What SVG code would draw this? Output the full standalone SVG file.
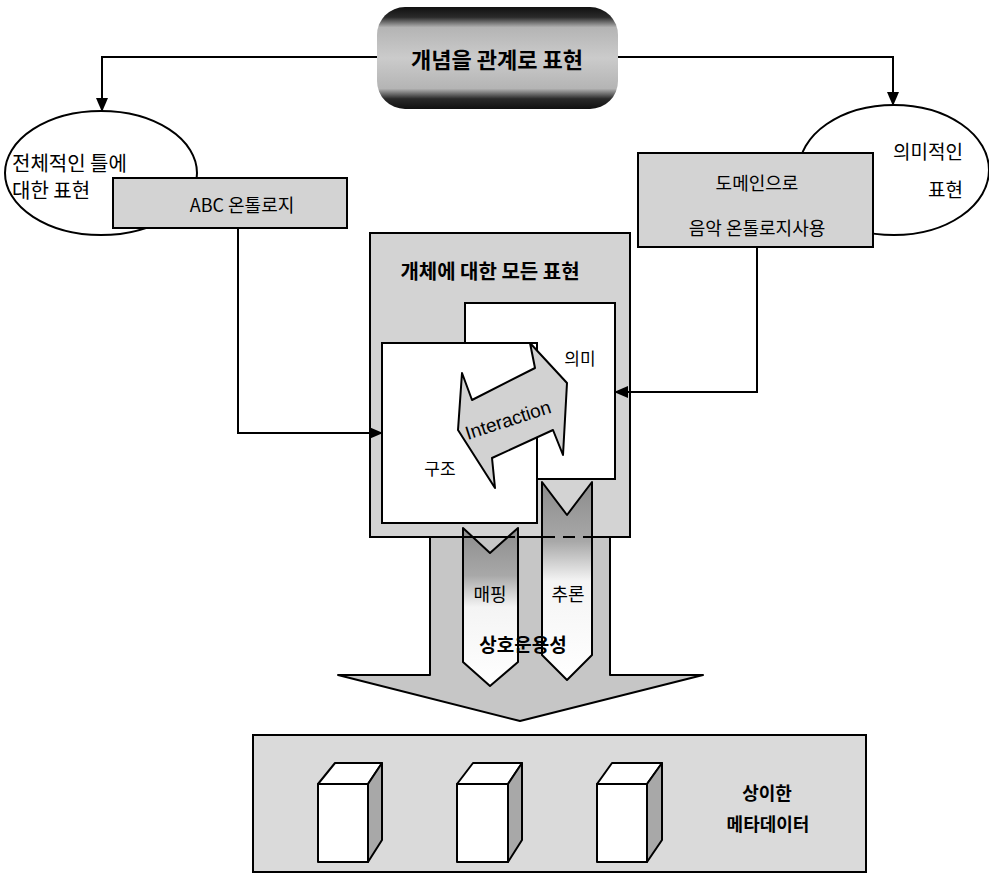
<svg xmlns="http://www.w3.org/2000/svg" width="989" height="875" viewBox="0 0 989 875">
<style>
.ko{font-family:"Noto Sans CJK KR","Liberation Sans",sans-serif;fill:#000}
.b{font-weight:700}
.ln{fill:none;stroke:#000;stroke-width:2}
.box{stroke:#000;stroke-width:2}
.gray{fill:#d3d3d3}
.white{fill:#fff}
</style>
<defs>
<marker id="ah" markerWidth="14" markerHeight="12" refX="13" refY="6" orient="auto" markerUnits="userSpaceOnUse">
<path d="M0,0 L14,6 L0,12 Z" fill="#000"/>
</marker>
<linearGradient id="topg" x1="0" y1="0" x2="0" y2="1">
<stop offset="0" stop-color="#111"/>
<stop offset="0.1" stop-color="#2a2a2a"/>
<stop offset="0.2" stop-color="#b4b4b4"/>
<stop offset="0.5" stop-color="#cbcbcb"/>
<stop offset="0.8" stop-color="#b4b4b4"/>
<stop offset="0.9" stop-color="#2a2a2a"/>
<stop offset="1" stop-color="#111"/>
</linearGradient>
<linearGradient id="chev" x1="0" y1="0" x2="0" y2="1">
<stop offset="0" stop-color="#8c8c8c"/>
<stop offset="0.3" stop-color="#a8a8a8"/>
<stop offset="0.5" stop-color="#f4f4f4"/>
<stop offset="1" stop-color="#ffffff"/>
</linearGradient>
</defs>

<g id="node-top">
<rect x="377" y="7" width="241" height="102" rx="28" fill="url(#topg)"/>
<text class="ko b" x="497" y="58" font-size="22" text-anchor="middle" dominant-baseline="central">개념을 관계로 표현</text>
</g>

<g id="node-left-ellipse">
<ellipse cx="101" cy="173" rx="96" ry="62" class="box white"/>
<text class="ko" x="12" y="162" font-size="20" dominant-baseline="central">전체적인 틀에</text>
<text class="ko" x="12" y="189" font-size="20" dominant-baseline="central">대한 표현</text>
</g>

<g id="node-abc">
<rect x="113" y="178" width="234" height="50" class="box gray"/>
<text class="ko" x="242" y="204" font-size="18" text-anchor="middle" dominant-baseline="central">ABC 온톨로지</text>
</g>

<g id="node-right-ellipse">
<ellipse cx="894" cy="170" rx="95" ry="65" class="box white"/>
<text class="ko" x="963" y="150" font-size="19" text-anchor="end" dominant-baseline="central">의미적인</text>
<text class="ko" x="963" y="188" font-size="19" text-anchor="end" dominant-baseline="central">표현</text>
</g>

<g id="node-domain">
<rect x="638" y="153" width="235" height="94" class="box gray"/>
<text class="ko" x="757" y="182" font-size="18" text-anchor="middle" dominant-baseline="central">도메인으로</text>
<text class="ko" x="757" y="227" font-size="18" text-anchor="middle" dominant-baseline="central">음악 온톨로지사용</text>
</g>

<g id="node-bigarrow">
<polygon points="430,537 610,537 610,675 703,675 520,721 338,675 430,675" fill="#c6c6c6" stroke="#000" stroke-width="2" stroke-linejoin="round"/>
</g>

<g id="node-entity">
<rect x="370" y="233" width="260" height="304" class="box gray"/>
<text class="ko b" x="490" y="270" font-size="20" text-anchor="middle" dominant-baseline="central">개체에 대한 모든 표현</text>
</g>

<g id="node-meaning">
<rect x="465" y="303" width="150" height="176" class="box white"/>
<text class="ko" x="580" y="357" font-size="17" text-anchor="middle" dominant-baseline="central">의미</text>
</g>

<g id="node-structure">
<rect x="382" y="343" width="155" height="180" class="box white"/>
<text class="ko" x="440" y="467" font-size="17" text-anchor="middle" dominant-baseline="central">구조</text>
</g>

<g id="node-interaction">
<polygon points="530,343 567,383 563,455 553,430 492,458 495,488 458,430 462,373 472,400 535,368" fill="#d2d2d2" stroke="#000" stroke-width="2" stroke-linejoin="round"/>
<text x="508" y="420" font-family="Liberation Sans, Arial, sans-serif" font-size="19" text-anchor="middle" dominant-baseline="central" transform="rotate(-18 508 420)">Interaction</text>
</g>

<g id="node-mapping">
<polygon points="463,528 490,553 518,528 518,662 490,686 463,662" fill="url(#chev)" stroke="#000" stroke-width="2" stroke-linejoin="round"/>
<text class="ko" x="490" y="593" font-size="18" text-anchor="middle" dominant-baseline="central">매핑</text>
</g>

<g id="node-inference">
<polygon points="542,482 567,515 592,482 592,655 567,680 542,655" fill="url(#chev)" stroke="#000" stroke-width="2" stroke-linejoin="round"/>
<text class="ko" x="568" y="593" font-size="18" text-anchor="middle" dominant-baseline="central">추론</text>
</g>

<line x1="463" y1="537" x2="592" y2="537" stroke="#000" stroke-width="2" stroke-dasharray="12,8"/>

<g id="label-interop">
<text class="ko b" x="523" y="643" font-size="19" text-anchor="middle" dominant-baseline="central">상호운용성</text>
</g>

<g id="node-metadata">
<rect x="253" y="735" width="613" height="137" fill="#dadada" class="box"/>
<g stroke="#000" stroke-width="2" stroke-linejoin="round">
<polygon points="318,784 335,763 382,763 368,784" fill="#fff"/>
<polygon points="368,784 382,763 382,840 368,862" fill="#a8a8a8"/>
<rect x="318" y="784" width="50" height="78" fill="#fff"/>
<polygon points="457,784 473,763 522,763 508,784" fill="#fff"/>
<polygon points="508,784 522,763 522,840 508,862" fill="#a8a8a8"/>
<rect x="457" y="784" width="51" height="78" fill="#fff"/>
<polygon points="597,784 612,763 662,763 647,784" fill="#fff"/>
<polygon points="647,784 662,763 662,840 647,862" fill="#a8a8a8"/>
<rect x="597" y="784" width="50" height="78" fill="#fff"/>
</g>
<text class="ko b" x="767" y="792" font-size="18" text-anchor="middle" dominant-baseline="central">상이한</text>
<text class="ko b" x="768" y="823" font-size="18" text-anchor="middle" dominant-baseline="central">메타데이터</text>
</g>

<g id="connectors">
<path class="ln" d="M377,57 H102 V111" marker-end="url(#ah)"/>
<path class="ln" d="M618,57 H893 V105" marker-end="url(#ah)"/>
<path class="ln" d="M238,228 V433 H382" marker-end="url(#ah)"/>
<path class="ln" d="M757,247 V392 H615" marker-end="url(#ah)"/>
</g>
</svg>
